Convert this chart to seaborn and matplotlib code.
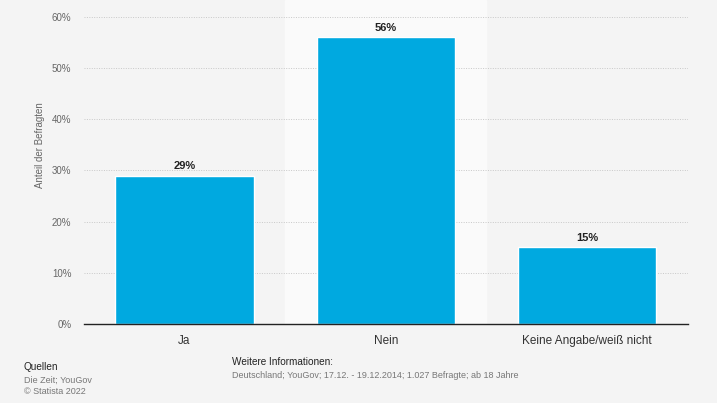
import numpy as np
import pandas as pd
import seaborn as sns
import matplotlib.pyplot as plt
from matplotlib.ticker import FuncFormatter

# data
antworten = ['Ja', 'Nein', 'Keine Angabe/weiß nicht']
anteile = [29, 56, 15]
y_ticks = [0, 10, 20, 30, 40, 50, 60]

df = pd.DataFrame({'antwort': antworten, 'anteil': anteile})

sns.set_style('white')
plt.rcParams['font.family'] = ['Liberation Sans', 'DejaVu Sans']

fig = plt.figure(figsize=(7.17, 4.03), dpi=100, facecolor='#f4f4f4')
ax = fig.add_axes([0.117, 0.196, 0.842, 0.804])
ax.set_facecolor('#f4f4f4')

# lighter band behind the middle category
ax.axvspan(0.5, 1.5, color='#fafafa', zorder=0)

sns.barplot(data=df, x='antwort', y='anteil', color='#00a9e0', width=0.686,
            saturation=1, ax=ax, zorder=3)

ax.set_ylim(0, 63.3)
ax.set_xlim(-0.5, 2.5)
ax.set_yticks(y_ticks)
ax.yaxis.set_major_formatter(FuncFormatter(lambda v, p: f'{v:.0f}%'))
ax.grid(axis='y', color='#c8c8c8', linestyle=(0, (1, 1.5)), linewidth=0.7, zorder=1)
ax.set_axisbelow(True)

for s in ['top', 'right', 'left']:
    ax.spines[s].set_visible(False)
ax.spines['bottom'].set_color('#222222')
ax.spines['bottom'].set_linewidth(1.0)
ax.spines['bottom'].set_zorder(4)

ax.tick_params(axis='y', length=0, labelsize=7, labelcolor='#666666', pad=9)
ax.tick_params(axis='x', length=0, labelsize=8.5, labelcolor='#333333', pad=8)
ax.set_xlabel('')
ax.set_ylabel('Anteil der Befragten', fontsize=7, color='#666666', labelpad=5, y=0.552)

for i, v in enumerate(anteile):
    ax.text(i, v + 0.9, f'{v}%', ha='center', va='bottom', fontsize=8,
            fontweight='bold', color='#222222', zorder=5)

# footer
fig.text(24 / 717, 1 - 367 / 403, 'Quellen', fontsize=7.2, color='#222222', va='center')
fig.text(24 / 717, 1 - 380 / 403, 'Die Zeit; YouGov', fontsize=6.5, color='#777777', va='center')
fig.text(24 / 717, 1 - 392 / 403, '© Statista 2022', fontsize=6.5, color='#777777', va='center')
fig.text(232 / 717, 1 - 362 / 403, 'Weitere Informationen:', fontsize=7.2, color='#222222', va='center')
fig.text(232 / 717, 1 - 375 / 403,
         'Deutschland; YouGov; 17.12. - 19.12.2014; 1.027 Befragte; ab 18 Jahre',
         fontsize=6.5, color='#777777', va='center')

fig.savefig('out.png', dpi=100, facecolor=fig.get_facecolor())
